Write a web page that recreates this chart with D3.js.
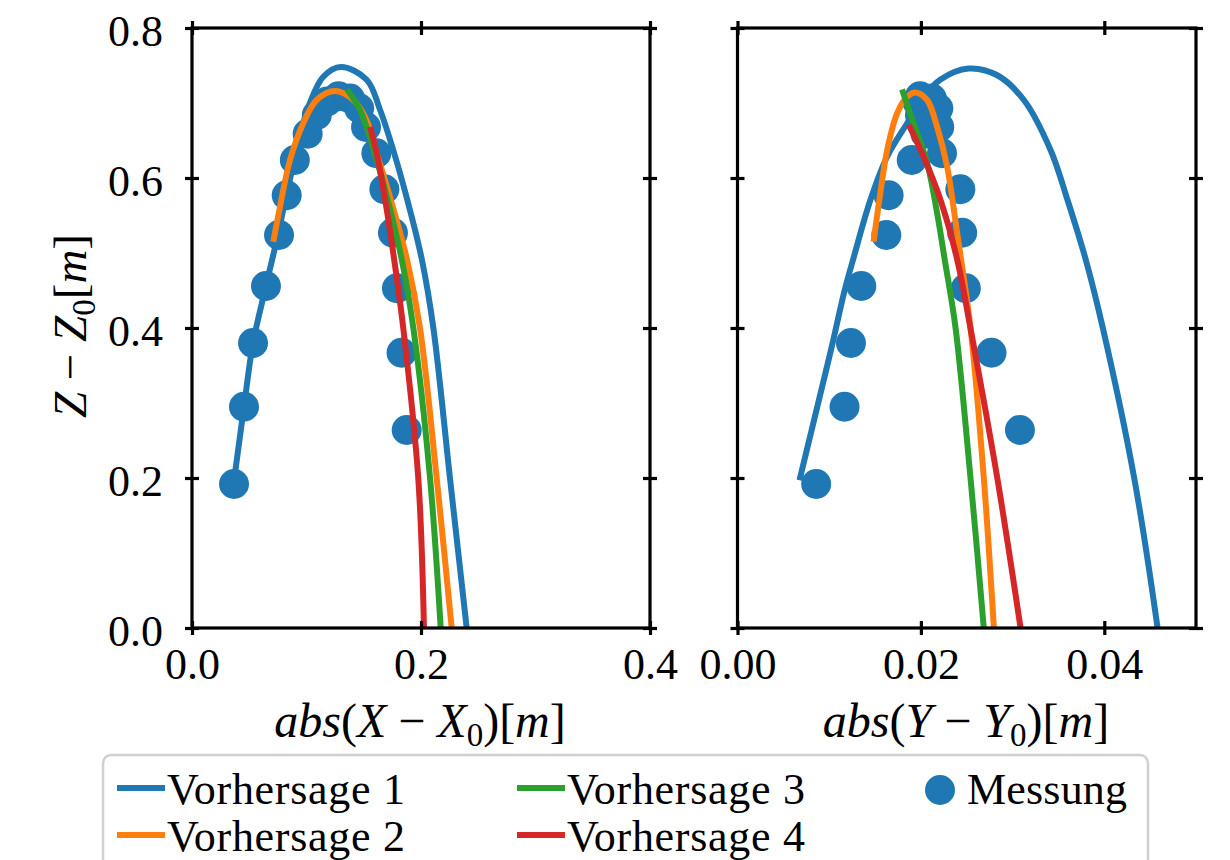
<!DOCTYPE html>
<html>
<head>
<meta charset="utf-8">
<script src="https://cdnjs.cloudflare.com/ajax/libs/d3/7.8.5/d3.min.js"></script>
<style>
  body { margin: 0; background: #fff; }
  text { font-family: "Liberation Serif", "DejaVu Serif", serif; fill: #000; }
</style>
<title>Vorhersage vs Messung</title>
</head>
<body>
<script>
// Messung (same heights in both panels)
const messZ = [0.192, 0.295, 0.380, 0.456, 0.524, 0.577, 0.624, 0.659, 0.684, 0.702,
               0.709, 0.706, 0.693, 0.668, 0.633, 0.585, 0.527, 0.453, 0.367, 0.264];
const messX = [0.0367, 0.0454, 0.0533, 0.0646, 0.0760, 0.0827, 0.0898, 0.1010, 0.1090, 0.1180,
               0.1280, 0.1380, 0.1460, 0.1520, 0.1610, 0.1680, 0.1755, 0.1790, 0.1830, 0.1875];
const messY = [0.00858, 0.01167, 0.01237, 0.0135, 0.01623, 0.01648, 0.0190, 0.0205, 0.0199, 0.0196,
               0.0199, 0.0212, 0.0219, 0.0220, 0.0223, 0.0243, 0.0245, 0.0249, 0.0277, 0.0308];

// predictions, [abs(X-X0), Z-Z0]
const pred1X = [[0.037, 0.200], [0.0454, 0.295], [0.0533, 0.380], [0.0646, 0.456], [0.075, 0.524],
                [0.0835, 0.585], [0.092, 0.640], [0.1005, 0.690], [0.1147, 0.735], [0.130, 0.748],
                [0.1526, 0.731], [0.1642, 0.691], [0.1758, 0.637], [0.1880, 0.571], [0.2008, 0.491],
                [0.2108, 0.400], [0.2253, 0.200], [0.2399, 0.000]];
const pred2X = [[0.071, 0.515], [0.0769, 0.562], [0.0856, 0.624], [0.0972, 0.673], [0.1089, 0.704],
                [0.1249, 0.716], [0.1409, 0.704], [0.1525, 0.677], [0.1613, 0.633], [0.1736, 0.571],
                [0.1878, 0.491], [0.1991, 0.400], [0.2137, 0.200], [0.2268, 0.000]];
const pred3X = [[0.1354, 0.718], [0.1467, 0.691], [0.1570, 0.646], [0.1709, 0.571], [0.1832, 0.491],
                [0.1933, 0.400], [0.2079, 0.200], [0.2172, 0.000]];
const pred4X = [[0.1555, 0.668], [0.1613, 0.633], [0.1687, 0.571], [0.1766, 0.491], [0.1845, 0.400],
                [0.1976, 0.200], [0.2026, 0.000]];

// predictions, [abs(Y-Y0), Z-Z0]
const pred1Y = [[0.00676, 0.197], [0.0087, 0.295], [0.0102, 0.371], [0.0117, 0.451], [0.0126, 0.491],
                [0.0145, 0.571], [0.0163, 0.628], [0.0185, 0.673], [0.0203, 0.708], [0.0221, 0.731],
                [0.0252, 0.746], [0.02833, 0.737], [0.03123, 0.704], [0.03415, 0.637], [0.03598, 0.571],
                [0.03798, 0.491], [0.03984, 0.400], [0.04326, 0.200], [0.04581, 0.000]];
const pred2Y = [[0.01484, 0.515], [0.01547, 0.571], [0.01632, 0.637], [0.0174, 0.686], [0.01849, 0.708],
                [0.0194, 0.714], [0.02068, 0.704], [0.02177, 0.668], [0.02286, 0.615], [0.02396, 0.526],
                [0.02541, 0.400], [0.02686, 0.200], [0.02796, 0.000]];
const pred3Y = [[0.01794, 0.718], [0.01921, 0.673], [0.02068, 0.620], [0.02177, 0.553], [0.0226, 0.491],
                [0.02378, 0.400], [0.02541, 0.200], [0.02686, 0.000]];
const pred4Y = [[0.01867, 0.671], [0.02031, 0.628], [0.02213, 0.571], [0.02396, 0.491], [0.0254, 0.400],
                [0.02833, 0.200], [0.03087, 0.000]];

const seriesNames = ["Vorhersage 1", "Vorhersage 2", "Vorhersage 3", "Vorhersage 4"];
const colors = ["#1f77b4", "#ff7f0e", "#2ca02c", "#d62728"];
const xTicksL = [0, 0.2, 0.4];
const xTicksR = [0, 0.02, 0.04];
const zTicks = [0, 0.2, 0.4, 0.6, 0.8];

const width = 1230, height = 860;
const svg = d3.select("body").append("svg")
  .attr("width", width).attr("height", height);

const yScale = d3.scaleLinear([0, 0.8], [628, 28]);
const xL = d3.scaleLinear([0, 0.4], [192, 650]);
const xR = d3.scaleLinear([0, 0.05], [737.5, 1196]);

const tk = 7; // half tick length (ticks cross the spine)
const lw = 6;

function drawPanel(x, xTicks, fmt, preds, messXs, showYLabels) {
  const g = svg.append("g");
  const [x0, x1] = x.range();
  const [y0, y1] = yScale.range();

  const line = d3.line()
    .x(d => x(d[0])).y(d => yScale(d[1]))
    .curve(d3.curveCatmullRom.alpha(0.5));

  // Vorhersage 1, then scatter, then the rest
  g.append("path").datum(preds[0])
    .attr("d", line).attr("fill", "none")
    .attr("stroke", colors[0]).attr("stroke-width", lw);

  g.selectAll("circle.mess").data(messZ)
    .join("circle").attr("class", "mess")
    .attr("cx", (d, i) => x(messXs[i]))
    .attr("cy", d => yScale(d))
    .attr("r", 15)
    .attr("fill", colors[0]);

  preds.slice(1).forEach((p, i) => {
    g.append("path").datum(p)
      .attr("d", line).attr("fill", "none")
      .attr("stroke", colors[i + 1]).attr("stroke-width", lw);
  });

  // frame
  g.append("rect")
    .attr("x", x0).attr("y", y1)
    .attr("width", x1 - x0).attr("height", y0 - y1)
    .attr("fill", "none").attr("stroke", "#000").attr("stroke-width", 3.2);

  const bottom = g.append("g").attr("transform", `translate(0,${y0 - tk})`)
    .call(d3.axisBottom(x).tickValues(xTicks).tickSize(2 * tk).tickPadding(13).tickFormat(fmt));
  const top = g.append("g").attr("transform", `translate(0,${y1 - tk})`)
    .call(d3.axisBottom(x).tickValues(xTicks).tickSize(2 * tk).tickFormat(""));
  const left = g.append("g").attr("transform", `translate(${x0 + tk},0)`)
    .call(d3.axisLeft(yScale).tickValues(zTicks).tickSize(2 * tk).tickPadding(22)
      .tickFormat(showYLabels ? d3.format(".1f") : ""));
  const right = g.append("g").attr("transform", `translate(${x1 + tk},0)`)
    .call(d3.axisLeft(yScale).tickValues(zTicks).tickSize(2 * tk).tickFormat(""));

  [bottom, top, left, right].forEach(a => {
    a.select(".domain").remove();
    a.selectAll(".tick line").attr("stroke", "#000").attr("stroke-width", 3.2);
    a.selectAll(".tick text").attr("font-family", "Liberation Serif, serif")
      .attr("font-size", 44).attr("fill", "#000");
  });
  left.selectAll(".tick text").attr("dy", "0.4em");
  bottom.selectAll(".tick text").attr("dy", "0.7em");
  return g;
}

drawPanel(xL, xTicksL, d3.format(".1f"), [pred1X, pred2X, pred3X, pred4X], messX, true);
drawPanel(xR, xTicksR, d3.format(".2f"), [pred1Y, pred2Y, pred3Y, pred4Y], messY, false);

// axis labels in math style
function mathLabel(sel, parts) {
  parts.forEach(p => {
    const t = sel.append("tspan").text(p.t);
    if (p.i) t.attr("font-style", "italic");
    if (p.sub) t.attr("font-size", 33).attr("dy", 9);
    if (p.up) t.attr("dy", -9);
  });
}

function xLabel(cx, v) {
  const t = svg.append("text")
    .attr("x", cx).attr("y", 737)
    .attr("text-anchor", "middle")
    .attr("font-size", 48);
  mathLabel(t, [
    { t: "abs", i: true }, { t: "(" }, { t: v, i: true }, { t: " \u2212 " },
    { t: v, i: true }, { t: "0", sub: true }, { t: ")[", up: true }, { t: "m", i: true }, { t: "]" }
  ]);
}
xLabel(420, "X");
xLabel(966, "Y");

const yl = svg.append("text")
  .attr("transform", "translate(86,326) rotate(-90)")
  .attr("text-anchor", "middle")
  .attr("font-size", 47);
mathLabel(yl, [
  { t: "Z", i: true }, { t: " \u2212 " }, { t: "Z", i: true }, { t: "0", sub: true },
  { t: "[", up: true }, { t: "m", i: true }, { t: "]" }
]);

// legend
const legend = svg.append("g");
legend.append("rect")
  .attr("x", 103).attr("y", 755).attr("width", 1045).attr("height", 130)
  .attr("rx", 8)
  .attr("fill", "#fff").attr("fill-opacity", 0.8)
  .attr("stroke", "#d0d0d0").attr("stroke-width", 2.5);

const legendPos = [[117, 788], [117, 835], [517, 788], [517, 835]];
seriesNames.forEach((name, i) => {
  const [lx, ly] = legendPos[i];
  legend.append("line")
    .attr("x1", lx).attr("x2", lx + 48).attr("y1", ly).attr("y2", ly)
    .attr("stroke", colors[i]).attr("stroke-width", lw);
  legend.append("text")
    .attr("x", lx + 50).attr("y", ly + 16)
    .attr("font-size", 44)
    .attr("textLength", 238).attr("lengthAdjust", "spacing")
    .text(name);
});
legend.append("circle")
  .attr("cx", 940).attr("cy", 790).attr("r", 15).attr("fill", colors[0]);
legend.append("text")
  .attr("x", 967).attr("y", 804)
  .attr("font-size", 44)
  .attr("textLength", 160).attr("lengthAdjust", "spacing")
  .text("Messung");
</script>
</body>
</html>
